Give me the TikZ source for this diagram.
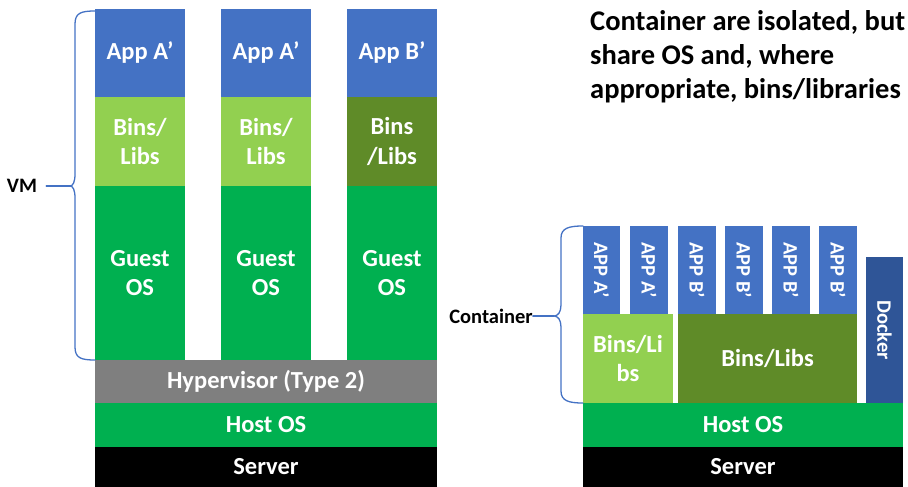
\documentclass[tikz,border=0pt]{standalone}
\usepackage{fontspec}
\setmainfont{Carlito}
\definecolor{appblue}{HTML}{4472C4}
\definecolor{binlight}{HTML}{92D050}
\definecolor{bindark}{HTML}{5F8B28}
\definecolor{osgreen}{HTML}{00B050}
\definecolor{hypgray}{HTML}{7F7F7F}
\definecolor{dockblue}{HTML}{2F5597}
\begin{document}
\begin{tikzpicture}[x=1pt,y=-1pt,
  blk/.style={inner sep=0pt, outer sep=0pt, anchor=north west, align=center,
    text=white, font=\bfseries\fontsize{24.5}{29.5}\selectfont},
  vblk/.style={inner sep=0pt, outer sep=0pt, anchor=center, rotate=-90,
    text=white, font=\bfseries\fontsize{20.5}{24}\selectfont},
  lbl/.style={inner sep=0pt, text=black, font=\bfseries\fontsize{20.5}{24}\selectfont},
  brace/.style={draw=appblue, line width=1.3pt, line cap=round, line join=round}]
\useasboundingbox (0,0) rectangle (908,487);

% ---------- virtual machines ----------
\node[blk, fill=appblue, minimum width=90pt, minimum height=88pt] (app1) at (95,9) {App A’};
\node[blk, fill=binlight, minimum width=90pt, minimum height=89pt] (bins1) at (95,97) {Bins/\\Libs};
\node[blk, fill=osgreen, minimum width=90pt, minimum height=174pt] (guest1) at (95,186) {Guest\\OS};

\node[blk, fill=appblue, minimum width=90pt, minimum height=88pt] (app2) at (221,9) {App A’};
\node[blk, fill=binlight, minimum width=90pt, minimum height=89pt] (bins2) at (221,97) {Bins/\\Libs};
\node[blk, fill=osgreen, minimum width=90pt, minimum height=174pt] (guest2) at (221,186) {Guest\\OS};

\node[blk, fill=appblue, minimum width=90pt, minimum height=88pt] (app3) at (347,9) {App B’};
\node[blk, fill=bindark, minimum width=90pt, minimum height=89pt] (bins3) at (347,97) {Bins\\/Libs};
\node[blk, fill=osgreen, minimum width=90pt, minimum height=174pt] (guest3) at (347,186) {Guest\\OS};

\node[blk, fill=hypgray, minimum width=342pt, minimum height=43pt] (hyp) at (95,360) {Hypervisor (Type 2)};
\node[blk, fill=osgreen, minimum width=342pt, minimum height=44pt] (host1) at (95,403) {Host OS};
\node[blk, fill=black, minimum width=342pt, minimum height=40pt] (srv1) at (95,447) {Server};

% brace grouping one VM
\coordinate (vmtip) at (70,186);
\draw[brace] (95,11) .. controls (81,11) and (75,13) .. (75,24) -- (75,174)
  .. controls (75,182) and (73,186) .. (vmtip)
  .. controls (73,186) and (75,190) .. (75,198) -- (75,347)
  .. controls (75,358) and (81,360) .. (95,360);
\node[lbl] (vm) at (22,186) {VM};
\draw[brace, shorten <=9pt] (vm.east) -- (vmtip);

% ---------- containers ----------
\foreach \i/\x/\t in {1/601.5/APP A’, 2/649/APP A’, 3/697/APP B’,
                      4/744/APP B’, 5/791/APP B’, 6/838/APP B’}{
  \node[vblk, fill=appblue, minimum width=88pt, minimum height=37.5pt] (capp\i) at (\x,270) {\t};
}
\node[blk, fill=binlight, minimum width=90pt, minimum height=89pt] (cbins1) at (583,314) {Bins/Li\\bs};
\node[blk, fill=bindark, minimum width=179pt, minimum height=89pt] (cbins2) at (678,314) {Bins/Libs};
\node[vblk, fill=dockblue, minimum width=146pt, minimum height=37pt] (docker) at (884.5,330) {Docker};
\node[blk, fill=osgreen, minimum width=320pt, minimum height=44pt] (host2) at (583,403) {Host OS};
\node[blk, fill=black, minimum width=320pt, minimum height=40pt] (srv2) at (583,447) {Server};

% brace grouping one container
\coordinate (ctip) at (554,316);
\draw[brace] (583,226) .. controls (569,226) and (561,228) .. (561,238) -- (561,305)
  .. controls (561,312) and (558,316) .. (ctip)
  .. controls (558,316) and (561,320) .. (561,327) -- (561,391)
  .. controls (561,401) and (569,403) .. (583,403);
\node[lbl] (cont) at (491,316) {Container};
\draw[brace] (cont.east) -- (ctip);

% ---------- caption ----------
\node[inner sep=0pt, anchor=north west, align=left, text=black,
      font=\bfseries\fontsize{28.5}{34}\selectfont] (note) at (590,10)
  {Container are isolated, but\\share OS and, where\\appropriate, bins/libraries};
\end{tikzpicture}
\end{document}
